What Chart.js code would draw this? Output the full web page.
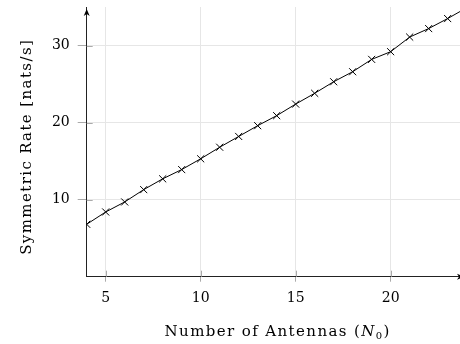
<!DOCTYPE html>
<html>
<head>
<meta charset="utf-8">
<script src="https://cdn.jsdelivr.net/npm/chart.js@4/dist/chart.umd.min.js"></script>
<style>
  html, body { margin: 0; padding: 0; background: #fff; }
  #wrap { width: 460px; height: 344px; }
</style>
</head>
<body>
<div id="wrap"><canvas id="rate-chart" width="460" height="344"></canvas></div>
<script>
const antennas = [4, 5, 6, 7, 8, 9, 10, 11, 12, 13, 14, 15, 16, 17, 18, 19, 20, 21, 22, 23, 24];
const symRate = [6.8, 8.4, 9.7, 11.3, 12.7, 13.9, 15.3, 16.8, 18.2, 19.6, 20.9, 22.4, 23.8, 25.3, 26.6, 28.2, 29.2, 31.1, 32.2, 33.5, 34.9];
const xTicks = [5, 10, 15, 20];
const yTicks = [10, 20, 30];
const xTitle = ['Number of Antennas (', 'N', '0', ')'];
const yTitle = 'Symmetric Rate [nats/s]';

const serif = "'DejaVu Serif', 'Liberation Serif', serif";
const spacing = 1.4;

// text drawn char by char so the wide LaTeX-like spacing can be copied
function runWidth(ctx, parts) {
  let w = 0;
  parts.forEach(p => {
    ctx.font = p.font;
    for (const ch of p.text) w += ctx.measureText(ch).width + spacing;
  });
  return w - spacing;
}
function drawRun(ctx, parts, x, y) {
  parts.forEach(p => {
    ctx.font = p.font;
    for (const ch of p.text) {
      ctx.fillText(ch, x, y + (p.dy || 0));
      x += ctx.measureText(ch).width + spacing;
    }
  });
}

// stretch the plot to the right edge like the clipped original
const fullWidth = {
  id: 'fullWidth',
  afterLayout(chart) {
    const a = chart.chartArea;
    a.right = chart.width;
    a.width = a.right - a.left;
    const xs = chart.scales.x;
    xs.right = chart.width;
    xs.width = xs.right - xs.left;
    xs.configure();
  }
};

const axisDecor = {
  id: 'axisDecor',
  afterDraw(chart) {
    const { ctx, chartArea: a } = chart;
    const xs = chart.scales.x, ys = chart.scales.y;
    ctx.save();

    // tick marks crossing into the plot
    ctx.strokeStyle = '#aaa';
    ctx.lineWidth = 1;
    ctx.beginPath();
    yTicks.forEach(v => {
      const p = Math.round(ys.getPixelForValue(v)) + 0.5;
      ctx.moveTo(a.left, p);
      ctx.lineTo(a.left + 6, p);
    });
    xTicks.forEach(v => {
      const p = Math.round(xs.getPixelForValue(v)) + 0.5;
      ctx.moveTo(p, a.bottom);
      ctx.lineTo(p, a.bottom - 6);
    });
    ctx.stroke();

    // arrow heads
    ctx.fillStyle = '#000';
    ctx.beginPath();
    ctx.moveTo(a.left, a.top + 2);
    ctx.lineTo(a.left - 3, a.top + 9);
    ctx.lineTo(a.left, a.top + 7);
    ctx.lineTo(a.left + 3, a.top + 9);
    ctx.closePath();
    ctx.fill();
    ctx.beginPath();
    ctx.moveTo(a.right + 4, a.bottom);
    ctx.lineTo(a.right - 3, a.bottom - 3);
    ctx.lineTo(a.right - 1, a.bottom);
    ctx.lineTo(a.right - 3, a.bottom + 3);
    ctx.closePath();
    ctx.fill();

    // axis titles
    ctx.textBaseline = 'alphabetic';
    ctx.textAlign = 'left';
    const xParts = [
      { text: xTitle[0], font: '15px ' + serif },
      { text: xTitle[1], font: 'italic 15px ' + serif },
      { text: xTitle[2], font: '10px ' + serif, dy: 3 },
      { text: xTitle[3], font: '15px ' + serif },
    ];
    drawRun(ctx, xParts, 277 - runWidth(ctx, xParts) / 2, 336);

    const yParts = [{ text: yTitle, font: '15px ' + serif }];
    ctx.translate(31, 147.5);
    ctx.rotate(-Math.PI / 2);
    drawRun(ctx, yParts, -runWidth(ctx, yParts) / 2, 0);
    ctx.restore();
  }
};

new Chart(document.getElementById('rate-chart'), {
  type: 'line',
  data: {
    labels: antennas,
    datasets: [
      {
        data: antennas.map((n, i) => ({ x: n, y: symRate[i] })),
        borderColor: '#000',
        borderWidth: 1,
        pointStyle: 'crossRot',
        pointRadius: 5,
        pointBorderColor: '#000',
        pointBorderWidth: 1,
        pointHoverRadius: 5,
        tension: 0,
        fill: false,
      },
    ],
  },
  options: {
    responsive: false,
    animation: false,
    layout: { padding: { top: 7, right: 0, left: 0, bottom: 0 } },
    plugins: { legend: { display: false }, tooltip: { enabled: false } },
    scales: {
      x: {
        type: 'linear',
        min: 4,
        max: 23.65,
        afterBuildTicks: s => { s.ticks = xTicks.map(v => ({ value: v })); },
        afterFit: s => { s.height = 67.3; s.paddingLeft = 0; s.paddingRight = 0; },
        ticks: { color: '#000', font: { family: serif, size: 14 }, padding: 8, maxRotation: 0 },
        grid: { color: '#e6e6e6', tickLength: 5, tickColor: '#aaa' },
        border: { color: '#222', width: 1 },
      },
      y: {
        min: 0,
        max: 35,
        afterBuildTicks: s => { s.ticks = yTicks.map(v => ({ value: v })); },
        afterFit: s => { s.width = 86.7; s.paddingTop = 0; s.paddingBottom = 0; },
        ticks: { color: '#000', font: { family: serif, size: 14 }, padding: 8 },
        grid: { color: '#e6e6e6', tickLength: 9, tickColor: '#aaa' },
        border: { color: '#222', width: 1 },
      },
    },
  },
  plugins: [fullWidth, axisDecor],
});
</script>
</body>
</html>
